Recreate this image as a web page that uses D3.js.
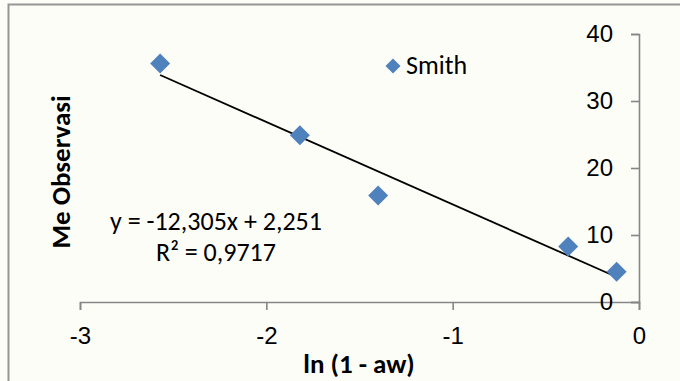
<!DOCTYPE html>
<html lang="en">
<head>
<meta charset="UTF-8">
<title>Me Observasi vs ln (1 - aw)</title>
<script src="https://d3js.org/d3.v7.min.js"></script>
<style>
  body { margin: 0; background: #fdfdf8; }
  svg { display: block; font-family: Carlito, Calibri, Lato, sans-serif; }
  .axis path, .axis line { stroke: #868686; stroke-width: 1.6; }
  .axis text { font-size: 24px; fill: #000; }
  .title { font-size: 27px; font-weight: bold; fill: #000; }
  .label { font-size: 26px; fill: #000; }
</style>
</head>
<body>
<svg id="chart" width="680" height="381"></svg>
<script>
// data
const xVals = [-2.57, -1.82, -1.40, -0.38, -0.12];
const yVals = [35.6, 24.9, 15.9, 8.3, 4.5];
const seriesName = "Smith";
const xTicks = [-3, -2, -1, 0];
const yTicks = [0, 10, 20, 30, 40];
// trendline shown on the chart
const slope = -12.305, intercept = 2.251;
const eqLines = ["y = -12,305x + 2,251", "R\u00b2 = 0,9717"];

const svg = d3.select("#chart");
const blue = "#4f81bd";

// outer frame, cut by the picture edges
svg.append("rect")
  .attr("x", 8.5).attr("y", 4.5)
  .attr("width", 700).attr("height", 400)
  .attr("fill", "none").attr("stroke", "#969696").attr("stroke-width", 2);

const x = d3.scaleLinear().domain([-3, 0]).range([80, 639]);
const y = d3.scaleLinear().domain([0, 40]).range([302, 34]);

svg.append("g").attr("class", "axis")
  .attr("transform", `translate(0,${y(0)})`)
  .call(d3.axisBottom(x).tickValues(xTicks).tickSize(8).tickPadding(17).tickFormat(d => String(d)));

svg.append("g").attr("class", "axis")
  .attr("transform", `translate(${x(0)},0)`)
  .call(d3.axisLeft(y).tickValues(yTicks).tickSize(8).tickPadding(18).tickFormat(d => String(d)));

// linear trendline across the data range
const xr = d3.extent(xVals);
svg.append("line")
  .attr("x1", x(xr[0])).attr("y1", y(slope * xr[0] + intercept))
  .attr("x2", x(xr[1])).attr("y2", y(slope * xr[1] + intercept))
  .attr("stroke", "#000").attr("stroke-width", 1.8);

const diamond = d3.symbol(d3.symbolSquare, 200);
svg.selectAll(".pt")
  .data(xVals.map((v, i) => [v, yVals[i]]))
  .join("path")
  .attr("class", "pt")
  .attr("d", diamond)
  .attr("transform", d => `translate(${x(d[0])},${y(d[1])}) rotate(45)`)
  .attr("fill", blue);

// legend
svg.append("path")
  .attr("d", d3.symbol(d3.symbolSquare, 112))
  .attr("transform", "translate(393,66) rotate(45)")
  .attr("fill", blue);
svg.append("text").attr("class", "label")
  .attr("x", 406).attr("y", 74)
  .text(seriesName);

// trendline equation
svg.selectAll(".eq")
  .data(eqLines)
  .join("text")
  .attr("class", "label eq")
  .attr("x", 216)
  .attr("y", (d, i) => 230 + i * 31)
  .attr("text-anchor", "middle")
  .text(d => d);

// axis titles
svg.append("text").attr("class", "title")
  .attr("x", 359).attr("y", 373)
  .attr("text-anchor", "middle")
  .text("ln (1 - aw)");
svg.append("text").attr("class", "title")
  .attr("transform", "translate(70,172) rotate(-90)")
  .attr("text-anchor", "middle")
  .text("Me Observasi");
</script>
</body>
</html>
